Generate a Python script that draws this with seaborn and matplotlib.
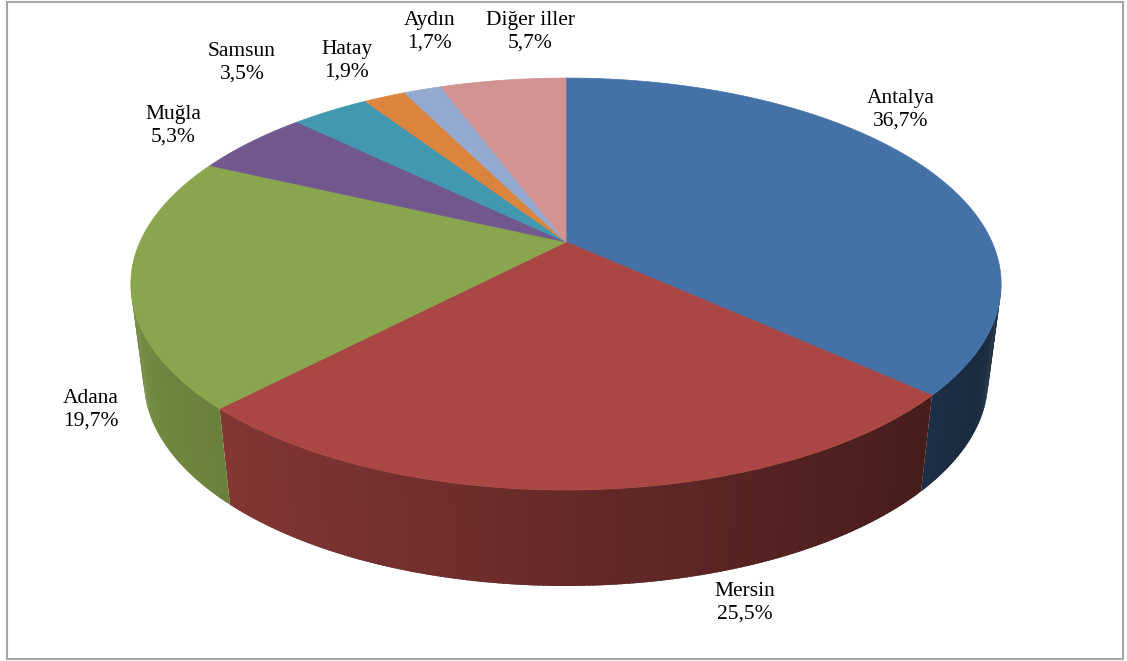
import numpy as np
import matplotlib
matplotlib.use("Agg")
import matplotlib.pyplot as plt
from matplotlib.patches import Polygon, Rectangle
from matplotlib.colors import to_rgb
import seaborn as sns

# ---- data ----
provinces = ["Antalya", "Mersin", "Adana", "Muğla", "Samsun", "Hatay", "Aydın", "Diğer iller"]
shares = [36.7, 25.5, 19.7, 5.3, 3.5, 1.9, 1.7, 5.7]
share_labels = ["36,7%", "25,5%", "19,7%", "5,3%", "3,5%", "1,9%", "1,7%", "5,7%"]

# ---- style / layout ----
colors = ["#4472A7", "#AA4643", "#89A54E", "#71588F", "#4198AF", "#DB843D", "#93A9CF", "#D19392"]
label_pos = [(901, 110), (745, 603), (91, 410), (173, 126), (242, 63), (347, 61), (430, 32), (530, 32)]

sns.set_theme(style="white")
plt.rcParams['font.family'] = ['Liberation Serif', 'DejaVu Serif']

fig = plt.figure(figsize=(11.27, 6.61), dpi=100)
ax = fig.add_axes([0, 0, 1, 1])
ax.set_xlim(0, 1127)
ax.set_ylim(661, 0)
ax.axis('off')

CX, CY = 566, 242
R, S, P = 426, 197.4, 0.204
DEPTH, SHRINK = 96, 0.97


def top(theta):
    u, v = np.cos(theta), np.sin(theta)
    d = 1 - P * v
    return CX + R * u / d, CY + S * v / d


def bottom(theta):
    x, y = top(theta)
    return CX + (x - CX) * SHRINK, y + DEPTH


vis_lo, vis_hi = np.arcsin(P), np.pi - np.arcsin(P)

fractions = np.array(shares) / np.sum(shares)
start = -np.pi / 2
bounds = []
for f in fractions:
    end = start + f * 2 * np.pi
    bounds.append((start, end))
    start = end

# sides (shaded strips)
for (a0, a1), col in zip(bounds, colors):
    lo, hi = max(a0, vis_lo), min(a1, vis_hi)
    if hi <= lo:
        continue
    n = max(2, int(np.degrees(hi - lo) * 2))
    ts = np.linspace(lo, hi, n + 1)
    base = np.array(to_rgb(col))
    step = ts[1] - ts[0]
    for i, (t0, t1) in enumerate(zip(ts[:-1], ts[1:])):
        tm = 0.5 * (t0 + t1)
        fac = 0.6 - 0.25 * np.cos(tm)
        c = np.clip(base * fac, 0, 1)
        t1e = min(t1 + step * 0.8, hi)
        pts = [top(t0), top(t1e), bottom(t1e), bottom(t0)]
        ax.add_patch(Polygon(pts, closed=True, facecolor=c, edgecolor='none', lw=0))

# top faces
for (a0, a1), col in zip(bounds, colors):
    ts = np.linspace(a0, a1, max(3, int(np.degrees(a1 - a0) * 2)))
    pts = [(CX, CY)] + [top(t) for t in ts]
    ax.add_patch(Polygon(pts, closed=True, facecolor=col, edgecolor=col, lw=0.5))

# labels
for name, lab, (x, y) in zip(provinces, share_labels, label_pos):
    ax.text(x, y, f"{name}\n{lab}", ha='center', va='center', fontsize=15.5,
            linespacing=1.22, color='black')

# frame
ax.add_patch(Rectangle((7, 2), 1116, 657, fill=False, edgecolor='#a6a6a6', lw=1.5))

fig.savefig("out.png", dpi=100)
